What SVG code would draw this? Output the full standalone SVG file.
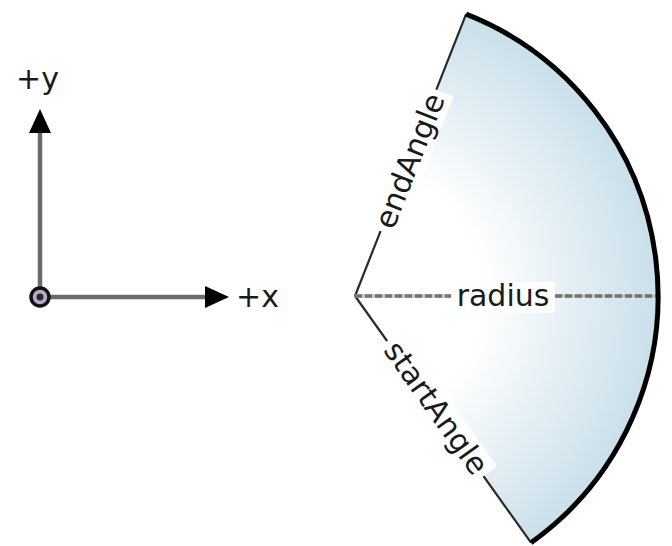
<svg xmlns="http://www.w3.org/2000/svg" width="672" height="546" viewBox="0 0 672 546">
  <style>
    .lbl { font-family: "DejaVu Sans", "Liberation Sans", sans-serif; font-size: 30px; fill: #1a1a1a; }
    .axis { stroke: #6b6b6b; stroke-width: 4.5; fill: none; }
    .edge { stroke: #2a2a2a; stroke-width: 2.2; fill: none; }
    .bg { fill: #ffffff; }
  </style>
  <defs>
    <radialGradient id="sectorFill" gradientUnits="userSpaceOnUse" cx="355" cy="296" r="305">
      <stop offset="0" stop-color="#ffffff"/>
      <stop offset="0.42" stop-color="#ffffff"/>
      <stop offset="1" stop-color="#c9dfea"/>
    </radialGradient>
    <marker id="arrow" viewBox="0 0 24 22" refX="2" refY="11" markerWidth="24" markerHeight="22" markerUnits="userSpaceOnUse" orient="auto">
      <path d="M0,0 L24,11 L0,22 Z" fill="#000000"/>
    </marker>
  </defs>

  <g id="connectors">
    <line id="y-axis" class="axis" x1="40" y1="290" x2="40" y2="131" marker-end="url(#arrow)"/>
    <line id="x-axis" class="axis" x1="48" y1="297" x2="207" y2="297" marker-end="url(#arrow)"/>
  </g>

  <g id="origin">
    <circle cx="40" cy="297" r="9" fill="#b9a9cc" stroke="#111111" stroke-width="3.5"/>
    <circle cx="40" cy="297" r="3.5" fill="#2a2a2a"/>
  </g>

  <g id="label-y">
    <text class="lbl" x="16" y="89">+y</text>
  </g>
  <g id="label-x">
    <text class="lbl" x="236" y="307">+x</text>
  </g>

  <g id="sector">
    <path d="M355,296 L466.1,14.1 A303,303 0 0 1 531,542.7 Z" fill="url(#sectorFill)"/>
    <line class="edge" x1="355" y1="296" x2="466.1" y2="14.1"/>
    <line class="edge" x1="355" y1="296" x2="531" y2="542.7"/>
    <line x1="355" y1="296" x2="658" y2="296" stroke="#c2c2c2" stroke-width="3.5"/>
    <line x1="355" y1="296" x2="658" y2="296" stroke="#737373" stroke-width="3.5" stroke-dasharray="7 3"/>
    <path d="M466.1,14.1 A303,303 0 0 1 531,542.7" fill="none" stroke="#000000" stroke-width="5"/>
  </g>

  <g id="label-radius">
    <rect class="bg" x="451" y="282" width="104" height="31"/>
    <text class="lbl" x="503" y="306" text-anchor="middle">radius</text>
  </g>
  <g id="label-endAngle" transform="translate(410,161) rotate(-68.5)">
    <rect class="bg" x="-76" y="-16" width="152" height="33"/>
    <text class="lbl" x="0" y="10" text-anchor="middle">endAngle</text>
  </g>
  <g id="label-startAngle" transform="translate(436,408) rotate(54.5)">
    <rect class="bg" x="-83" y="-16" width="166" height="33"/>
    <text class="lbl" x="0" y="10" text-anchor="middle">startAngle</text>
  </g>
</svg>
